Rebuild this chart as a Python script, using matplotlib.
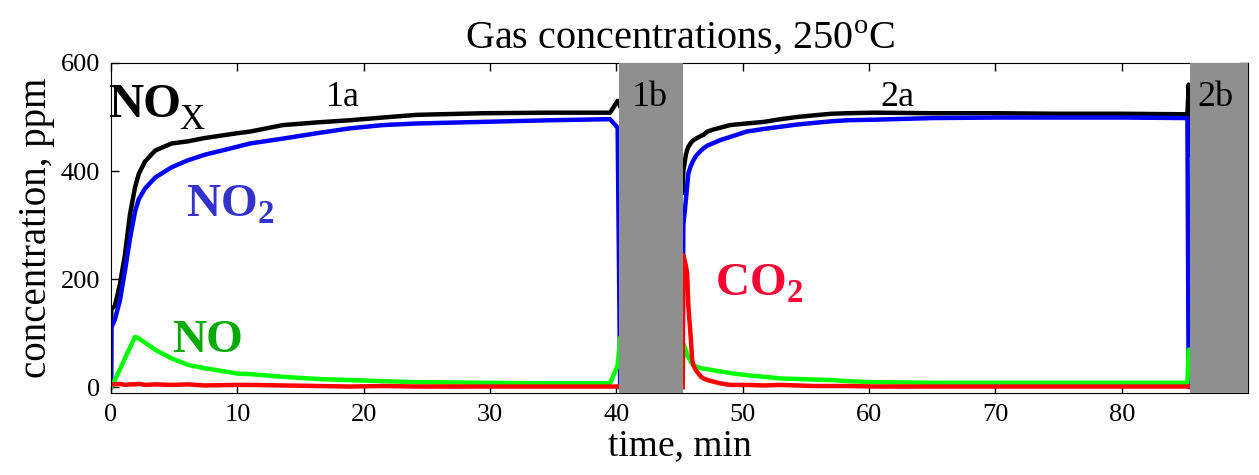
import matplotlib
matplotlib.use("Agg")
import matplotlib.pyplot as plt

plt.rcParams['font.family'] = ['Liberation Serif', 'DejaVu Serif']
plt.rcParams['mathtext.fontset'] = 'custom'
plt.rcParams['mathtext.rm'] = 'Liberation Serif'
plt.rcParams['mathtext.bf'] = 'Liberation Serif:bold'

# Phase 1 (0 - 40 min)
t_a = [0, 0.02, 0.3, 0.7, 1.1, 1.5, 1.9, 2.2, 2.7, 3.5, 4.8, 6.1, 7.4, 10, 11,
       13.6, 16.3, 18.9, 21.5, 24.2, 29.5, 34.8, 39.5, 40.1, 40.3]
nox_a = [0, 145, 150, 190, 245, 320, 370, 395, 418, 438, 451, 455, 461, 470, 473,
         485, 490, 494, 499, 504, 507, 508, 508, 530, 520]
no2_a = [0, 110, 125, 160, 215, 275, 325, 348, 368, 388, 407, 420, 430, 445, 451,
         460, 470, 479, 485, 488, 491, 494, 496, 480, 0]
no_a = [0, 0, 13, 33, 53, 73, 93, 90, 82, 69, 53, 41, 35, 25, 24,
        19, 15, 13, 11, 9, 8, 7, 7, 40, 90]
co2_a = [5, 5, 5, 6, 4, 5, 5, 6, 4, 5, 4, 5, 3, 4, 4,
         3, 2, 1, 2, 1, 1, 1, 1, 1, 1]

# Phase 2 (45 - 85 min)
t_b = [45.25, 45.3, 45.5, 45.6, 45.7, 45.9, 46.0, 46.1, 46.3, 46.7, 46.9, 47.2, 47.7,
       48.2, 49.0, 50.3, 51.7, 53.0, 54.3, 55.6, 57.0, 58.3, 60.4, 65, 70, 75, 80,
       85.2, 85.3, 85.35]
nox_b = [360, 400, 430, 439, 445, 452, 455, 457, 460, 465, 467, 473, 477,
         480, 485, 488, 491, 496, 500, 503, 506, 507, 508, 507, 507, 506, 506,
         505, 560, 430]
no2_b = [70, 300, 346, 372, 396, 410, 415, 420, 428, 438, 442, 447, 452,
         457, 463, 473, 478, 482, 486, 489, 492, 494, 495, 498, 499, 499, 499,
         498, 0, 0]
no_b = [0, 80, 69, 60, 55, 47, 43, 41, 38, 35, 34, 33, 31,
        29, 26, 22, 19, 16, 15, 14, 13, 11, 9, 8, 8, 8, 8,
        8, 69, 69]
co2_b = [0, 244, 225, 210, 149, 87, 50, 40, 31, 19, 16, 13, 10,
         7, 4, 4, 3, 4, 3, 2, 2, 2, 1, 1, 1, 1, 1,
         1, 1, 1]

# purge periods (gray bands)
purge_spans = [(40.2, 45.3), (85.4, 90.5)]
phase_labels = ['1a', '1b', '2a', '2b']
phase_label_x = [17.0, 41.2, 60.9, 86.0]

fig = plt.figure(figsize=(12.59, 4.75), dpi=100)
ax = fig.add_axes([0.0882, 0.1726, 0.9031, 0.6948])

lw = 3.2
for t, nox, no2, no, co2 in [(t_a, nox_a, no2_a, no_a, co2_a),
                             (t_b, nox_b, no2_b, no_b, co2_b)]:
    ax.plot(t, nox, color='black', lw=lw)
    ax.plot(t, no2, color='#0000ff', lw=lw)
    ax.plot(t, no, color='#00ff00', lw=lw)
    ax.plot(t, co2, color='#ff0000', lw=lw)

for x0, x1 in purge_spans:
    ax.axvspan(x0, x1, ymin=-0.005, ymax=1.0, color='#8f8f8f', zorder=5, lw=0)

for lab, xl in zip(phase_labels, phase_label_x):
    ax.text(xl, 520, lab, fontsize=26, color='black', ha='left', va='baseline', zorder=6)

# NOx label: bold "NO" with a plain, lowered "X"
ax.text(-0.25, 500, 'NO', fontsize=35, fontweight='bold',
        color='black', ha='left', va='baseline', zorder=6)
ax.text(5.4, 477, 'X', fontsize=25, color='black', ha='left', va='baseline', zorder=6)
ax.text(5.9, 315, r'NO$_\mathbf{2}$', fontsize=34, fontweight='bold',
        color='#3333cc', ha='left', va='baseline', zorder=6)
ax.text(4.8, 65, 'NO', fontsize=34, fontweight='bold',
        color='#00aa00', ha='left', va='baseline', zorder=6)
ax.text(47.8, 170, r'CO$_\mathbf{2}$', fontsize=34, fontweight='bold',
        color='#ff0033', ha='left', va='baseline', zorder=6)

ax.set_xlim(0, 90)
ax.set_ylim(-11, 600)
ax.set_xticks(range(0, 90, 10))
ax.set_yticks([0, 200, 400, 600])
ax.tick_params(direction='in', top=True, right=True, length=6, width=1,
               labelsize=19, pad=8)
ax.set_xlabel('time, min', fontsize=27, labelpad=2)
ax.set_ylabel('concentration, ppm', fontsize=28, labelpad=4)
ax.set_title(r'Gas concentrations, 250$^\mathrm{o}$C', fontsize=29, pad=10)

fig.savefig('out.png', dpi=100)
